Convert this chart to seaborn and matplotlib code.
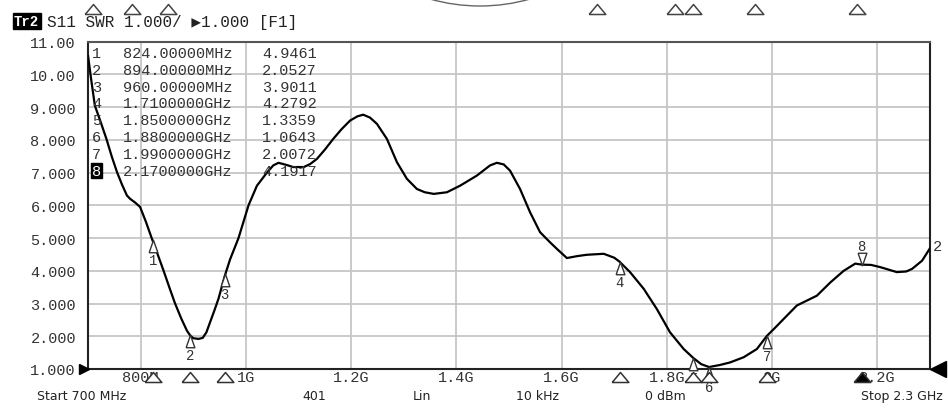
import numpy as np
import pandas as pd
import matplotlib
matplotlib.use("Agg")
import matplotlib.pyplot as plt
import seaborn as sns
from matplotlib import transforms
from matplotlib.patches import Arc

# ---------------- data ----------------
freq_mhz = [700, 706, 713, 724, 735, 745, 755, 765, 774, 780, 790, 799, 810, 821,
            832, 843, 854, 865, 877, 888, 894, 900, 910, 918, 925, 932, 940, 948,
            960, 970, 986, 1005, 1021, 1040, 1052, 1062, 1076, 1090, 1110, 1122, 1135, 1150,
            1166, 1182, 1198, 1212, 1223, 1236, 1249, 1268, 1287, 1306, 1325, 1340,
            1357, 1382, 1407, 1439, 1464, 1477, 1490, 1502, 1521, 1540, 1559, 1578,
            1591, 1610, 1630, 1648, 1680, 1700, 1710, 1730, 1756, 1781, 1806, 1832,
            1850, 1865, 1880, 1900, 1920, 1946, 1971, 1990, 2005, 2022, 2047, 2066,
            2085, 2111, 2136, 2158, 2170, 2188, 2206, 2237, 2255, 2266, 2285, 2300]
swr = [10.58, 9.85, 9.05, 8.55, 8.03, 7.50, 7.02, 6.62, 6.30, 6.20, 6.08, 5.95, 5.50, 5.00,
       4.52, 4.03, 3.52, 3.02, 2.55, 2.17, 2.03, 1.94, 1.92, 1.95, 2.12, 2.43, 2.78, 3.15,
       3.85, 4.35, 5.00, 6.00, 6.60, 7.00, 7.22, 7.30, 7.24, 7.17, 7.17, 7.26, 7.42, 7.70,
       8.03, 8.33, 8.59, 8.72, 8.77, 8.68, 8.49, 8.03, 7.32, 6.81, 6.50, 6.40,
       6.35, 6.40, 6.60, 6.91, 7.22, 7.30, 7.25, 7.06, 6.50, 5.79, 5.18, 4.87,
       4.67, 4.39, 4.45, 4.49, 4.52, 4.40, 4.28, 3.96, 3.45, 2.83, 2.12, 1.61,
       1.34, 1.15, 1.06, 1.12, 1.20, 1.36, 1.61, 2.01, 2.25, 2.53, 2.94, 3.09,
       3.24, 3.65, 4.00, 4.22, 4.19, 4.18, 4.11, 3.96, 3.98, 4.06, 4.31, 4.69]

marker_ids = [1, 2, 3, 4, 5, 6, 7, 8]
marker_freq_mhz = [824, 894, 960, 1710, 1850, 1880, 1990, 2170]
marker_swr = [4.9461, 2.0527, 3.9011, 4.2792, 1.3359, 1.0643, 2.0072, 4.1917]
active_marker = 8

top_marker_freq_mhz = [709, 784, 852, 1668, 1816, 1850, 1968, 2162]

y_ticks = [1, 2, 3, 4, 5, 6, 7, 8, 9, 10, 11]
y_tick_labels = ["1.000", "2.000", "3.000", "4.000", "5.000", "6.000",
                 "7.000", "8.000", "9.000", "10.00", "11.00"]
x_ticks = [800, 1000, 1200, 1400, 1600, 1800, 2000, 2200]
x_tick_labels = ["800M", "1G", "1.2G", "1.4G", "1.6G", "1.8G", "2G", "2.2G"]

header_trace = "Tr2"
header_text = "S11 SWR 1.000/ \u25b61.000 [F1]"
footer_labels = ["Start 700 MHz", "401", "Lin", "10 kHz", "0 dBm", "Stop 2.3 GHz"]
trace_end_label = "2"

# ---------------- style ----------------
sns.set_theme(style="white")
MONO = ["Liberation Mono", "DejaVu Sans Mono", "DejaVu Sans"]
SANS = ["DejaVu Sans"]
plt.rcParams["font.family"] = MONO

W, H = 948, 410
fig = plt.figure(figsize=(W / 100, H / 100), dpi=100)
fig.patch.set_facecolor("white")
ax_l, ax_r, ax_top, ax_bot = 88, 930, 42.7, 370
ax = fig.add_axes([ax_l / W, 1 - ax_bot / H, (ax_r - ax_l) / W, (ax_bot - ax_top) / H])
ax.set_facecolor("white")

df = pd.DataFrame({"freq": freq_mhz, "swr": swr})
sns.lineplot(data=df, x="freq", y="swr", ax=ax, color="black", linewidth=1.6,
             zorder=5, estimator=None, sort=False, solid_joinstyle="round",
             solid_capstyle="round")

ax.set_xlim(700, 2300)
ax.set_ylim(1, 11)
ax.set_xticks(x_ticks)
ax.set_xticklabels(x_tick_labels)
ax.set_yticks(y_ticks)
ax.set_yticklabels(y_tick_labels)
ax.set_xlabel("")
ax.set_ylabel("")
ax.grid(True, color="#c6c6c6", linewidth=1.3, zorder=0)
ax.tick_params(axis="y", length=4, width=1.2, color="#c6c6c6", pad=4.6,
               labelsize=11, labelcolor="#333333")
ax.tick_params(axis="x", length=0, pad=1, labelsize=11, labelcolor="#333333")
for s in ax.spines.values():
    s.set_color("#222222")
    s.set_linewidth(1.5)
ax.spines["top"].set_color("#555555")

def off(trans, dx=0, dy=0):
    return transforms.offset_copy(trans, fig=fig, x=dx, y=dy, units="dots")

# reference-level arrows
yref = transforms.blended_transform_factory(ax.transAxes, ax.transData)
ax.plot([0], [1], marker=">", ms=7.5, color="black", transform=off(yref, -4, 0),
        clip_on=False, zorder=6)
ax.plot([1], [1], marker="<", ms=11, color="black", transform=off(yref, 8, 0),
        clip_on=False, zorder=6)

# marker triangles on the trace
up_tri = [(-0.35, -0.5), (0, 0.5), (0.35, -0.5), (-0.35, -0.5)]
down_tri = [(-0.35, 0.5), (0, -0.5), (0.35, 0.5), (-0.35, 0.5)]
for mid, f, v in zip(marker_ids, marker_freq_mhz, marker_swr):
    if mid == active_marker:
        ax.plot([f], [v], marker=down_tri, ms=9, mfc="white", mec="#333333", mew=1.0,
                transform=off(ax.transData, 0, 6), clip_on=False, zorder=7)
        ax.text(f, v, str(mid), transform=off(ax.transData, 0, 19), ha="center",
                va="center", fontsize=10, color="#333333", zorder=7)
    else:
        ax.plot([f], [v], marker=up_tri, ms=9, mfc="white", mec="#333333", mew=1.0,
                transform=off(ax.transData, 0, -6), clip_on=False, zorder=7)
        ax.text(f, v, str(mid), transform=off(ax.transData, 0, -20), ha="center",
                va="center", fontsize=10, color="#333333", zorder=7, clip_on=False)

# marker triangles under the x axis
flat_tri = [(-0.5, -0.3), (0, 0.3), (0.5, -0.3), (-0.5, -0.3)]
xbot = transforms.blended_transform_factory(ax.transData, ax.transAxes)
for mid, f in zip(marker_ids, marker_freq_mhz):
    filled = mid == active_marker
    ax.plot([f], [0], marker=flat_tri, ms=12, mfc="black" if filled else "white",
            mec="#333333", mew=1.1, transform=off(xbot, 0, -8), clip_on=False, zorder=8)

# marker triangles along the top edge
xtop = transforms.blended_transform_factory(ax.transData, fig.transFigure)
for f in top_marker_freq_mhz:
    ax.plot([f], [1 - 10 / H], marker=flat_tri, ms=12, mfc="white", mec="#444444",
            mew=1.1, transform=xtop, clip_on=False, zorder=8)

# marker table
row0, row_h = 54, 16.8
for i, (mid, f, v) in enumerate(zip(marker_ids, marker_freq_mhz, marker_swr)):
    y = 1 - (row0 + i * row_h) / H
    if f < 1000:
        ftxt = f"{f:.5f}MHz"
    else:
        ftxt = f"{f / 1000:.7f}GHz"
    if mid == active_marker:
        fig.text(92 / W, y, str(mid), fontsize=11, color="white", va="center", ha="left",
                 bbox=dict(boxstyle="square,pad=0.05", fc="black", ec="black"), zorder=10)
    else:
        fig.text(92 / W, y, str(mid), fontsize=11, color="#333333", va="center", ha="left")
    fig.text(123 / W, y, ftxt, fontsize=11, color="#333333", va="center", ha="left")
    fig.text(262 / W, y, f"{v:.4f}", fontsize=11, color="#333333", va="center", ha="left")

# trace end label
ax.text(1, swr[-1], trace_end_label, transform=off(yref, 3, 2), fontsize=11,
        color="#333333", ha="left", va="center", clip_on=False)

# header
fig.text(14 / W, 1 - 22 / H, header_trace, fontsize=10, color="white", fontweight="bold",
         va="center", ha="left",
         bbox=dict(boxstyle="square,pad=0.1", fc="black", ec="black"))
fig.text(47 / W, 1 - 22 / H, header_text, fontsize=11.5, color="#222222",
         va="center", ha="left")

# footer
fy = 1 - 397 / H
fig.text(37 / W, fy, footer_labels[0], fontsize=9, family=SANS, color="#222222",
         va="center", ha="left")
fig.text(302 / W, fy, footer_labels[1], fontsize=9, family=SANS, color="#222222",
         va="center", ha="left")
fig.text(413 / W, fy, footer_labels[2], fontsize=9, family=SANS, color="#222222",
         va="center", ha="left")
fig.text(516 / W, fy, footer_labels[3], fontsize=9, family=SANS, color="#222222",
         va="center", ha="left")
fig.text(645 / W, fy, footer_labels[4], fontsize=9, family=SANS, color="#222222",
         va="center", ha="left")
fig.text(943 / W, fy, footer_labels[5], fontsize=9, family=SANS, color="#222222",
         va="center", ha="right")

# decorative arc at top centre
arc = Arc((4.8, (H - 7) / 100 + 1.82), 3.64, 3.64, theta1=254, theta2=286,
          transform=fig.dpi_scale_trans, color="#666666", lw=1.0, clip_on=False)
fig.add_artist(arc)

fig.savefig("out.png", dpi=100, facecolor="white")
